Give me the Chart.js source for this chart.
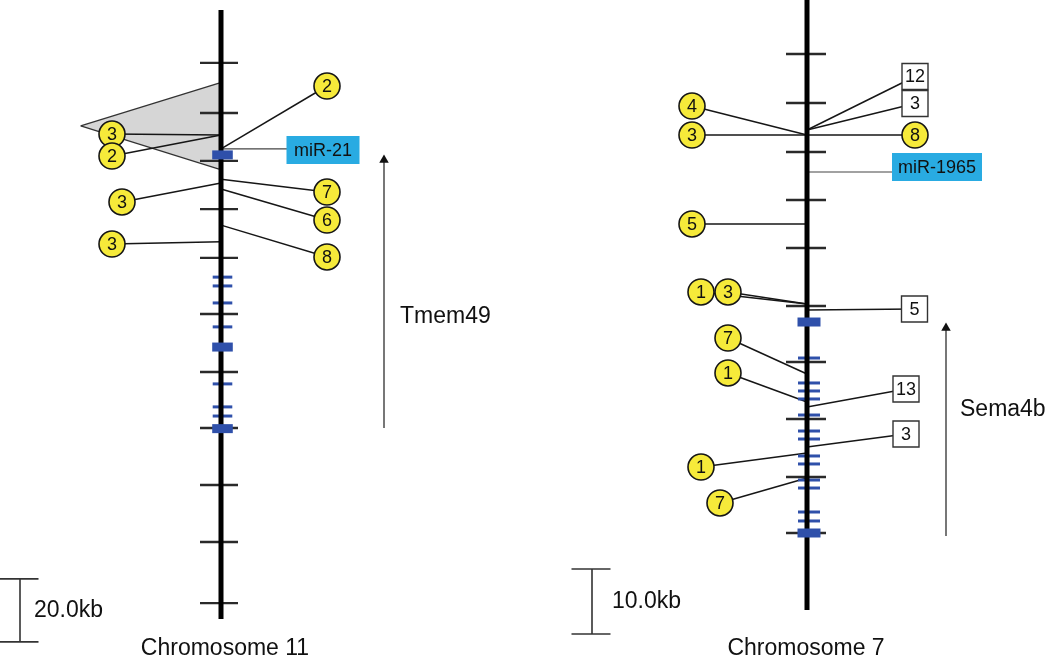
<!DOCTYPE html>
<html>
<head>
<meta charset="utf-8">
<script src="https://cdn.jsdelivr.net/npm/chart.js@4/dist/chart.umd.min.js"></script>
<style>
  html, body { margin: 0; padding: 0; background: #ffffff; }
  #wrap { width: 1050px; height: 658px; }
</style>
</head>
<body>
<div id="wrap"><canvas id="c" width="1050" height="658"></canvas></div>
<script>
// ================= DATA (positions along chromosome in kb) =================
// Chromosome 11 (Tmem49 / miR-21 locus)
const chr11Length = 193.3;
const chr11MarkerTicks = [16.8, 32.7, 47.9, 63.2, 78.7, 96.5, 114.9, 132.7, 150.8, 168.9, 188.3];
const chr11ExonLines = [84.8, 87.6, 93.0, 100.6, 118.7, 126.0, 128.9];
const chr11ExonBlocks = [46.0, 107.0, 132.9];
const chr11InsertSites = [39.7, 39.7, 44.1, 54.9, 53.7, 56.8, 68.3, 73.6];
const chr11InsertCounts = [3, 2, 2, 3, 7, 6, 8, 3];
const chr11RegionSpan = [23.2, 50.5];
const chr11MiRNA = ['miR-21'];
const chr11MiRNASites = [44.1];
const chr11Gene = 'Tmem49';
const chr11GeneSpan = [132.7, 46.0];   // from start to end (arrow direction)
const chr11ScaleKb = 20;
const chr11ScaleLabel = '20.0kb';
const chr11Title = 'Chromosome 11';

// Chromosome 7 (Sema4b / miR-1965 locus)
const chr7Length = 93.85;
const chr7MarkerTicks = [8.31, 15.85, 23.38, 30.77, 38.15, 47.08, 55.69, 64.46, 73.38, 82.0];
const chr7ExonLines = [55.08, 58.92, 60.15, 61.38, 63.85, 66.31, 67.54, 70.15, 71.38, 73.85, 75.08, 78.77, 80.15];
const chr7ExonBlocks = [49.54, 82.0];
const chr7CircleSites = [20.77, 20.77, 20.77, 34.46, 46.77, 46.77, 57.54, 61.85, 69.69, 73.54];
const chr7CircleCounts = [4, 3, 8, 5, 1, 3, 7, 1, 1, 7];
const chr7BoxSites = [20.0, 20.0, 47.69, 62.62, 68.77];
const chr7BoxCounts = [12, 3, 5, 13, 3];
const chr7MiRNA = ['miR-1965'];
const chr7MiRNASites = [26.46];
const chr7Gene = 'Sema4b';
const chr7GeneSpan = [82.46, 49.69];
const chr7ScaleKb = 10;
const chr7ScaleLabel = '10.0kb';
const chr7Title = 'Chromosome 7';

// ================= LAYOUT (page placement, not data) =================
const L = { axisMin: -10 / 3.15, axisMax: 648 / 3.15, chrX: 221, tickX: 219, tickR: 19, exonX: 222.5, exonR: 9.8,
  labelX: [112, 112, 327, 122, 327, 327, 327, 112],
  labelY: [39.37, 46.35, 24.13, 60.95, 57.78, 66.67, 78.41, 74.3],
  regionApex: [80.7, 36.8],
  miRX: [323], miRY: [44.44], miRHalfW: [36.5],
  geneX: 384, geneTextX: 400, geneTextY: 97.46, headOffset: 1.6,
  scaleX: 20, scaleCapX: 19, scaleStart: 180.6, scaleTextX: 34,
  titleX: 225, titleY: 202.6 };
const R = { axisMin: 0, axisMax: 658 / 6.5, chrX: 807, tickX: 806, tickR: 20, exonX: 809, exonR: 11,
  circleX: [692, 692, 915, 692, 701, 728, 728, 728, 701, 720],
  circleY: [16.31, 20.77, 20.77, 34.46, 44.92, 44.92, 52.0, 57.38, 71.85, 77.38],
  boxX: [915, 915, 914.5, 906, 906],
  boxY: [11.77, 15.92, 47.54, 59.85, 66.77],
  miRX: [937], miRY: [25.69], miRHalfW: [45],
  geneX: 946, geneTextX: 960, geneTextY: 63.08, headOffset: 0.77,
  scaleX: 592, scaleCapX: 591, scaleStart: 87.54, scaleTextX: 612,
  titleX: 806, titleY: 99.85 };

const FONT = '"Liberation Sans", Arial, Helvetica, sans-serif';
const YELLOW = '#f6ea3a', CYAN = '#29abe2', BLUE = '#2f50aa', INK = '#161616';

// ================= BUILD DATASETS =================
const datasets = [];
const line = (pts, axis, color, width, order, extra) => datasets.push(Object.assign({
  yAxisID: axis, data: pts, showLine: true, borderColor: color, borderWidth: width,
  pointRadius: 0, fill: false, tension: 0, order: order, borderCapStyle: 'butt'
}, extra || {}));
const marks = (pts, axis, style, extra) => datasets.push(Object.assign({
  yAxisID: axis, data: pts, showLine: false
}, style, extra || {}));

function chromosome(axis, lay, length, ticks, exLines, exBlocks) {
  line([{x: lay.chrX, y: 0}, {x: lay.chrX, y: length}], axis, '#000', 5, 3);
  marks(ticks.map(v => ({x: lay.tickX, y: v})), axis,
    {pointStyle: 'line', pointRadius: lay.tickR, pointBorderWidth: 2.4, pointBorderColor: '#2a2a2a', order: 4});
  marks(exLines.map(v => ({x: lay.exonX, y: v})), axis,
    {pointStyle: 'line', pointRadius: lay.exonR, pointBorderWidth: 3, pointBorderColor: BLUE, order: 4});
  marks(exBlocks.map(v => ({x: lay.exonX, y: v})), axis,
    {pointStyle: 'line', pointRadius: lay.exonR + 0.5, pointBorderWidth: 9, pointBorderColor: BLUE, order: 2});
}

function circles(axis, sites, counts, xs, ys, chrX) {
  sites.forEach((s, i) => line([{x: chrX, y: s}, {x: xs[i], y: ys[i]}], axis, INK, 1.5, 5));
  marks(counts.map((c, i) => ({x: xs[i], y: ys[i]})), axis, {
    pointStyle: 'circle', pointRadius: 13, pointBackgroundColor: YELLOW,
    pointBorderColor: INK, pointBorderWidth: 1.6, order: 1,
    texts: counts, textFont: '18px ' + FONT, textColor: '#111', textDy: 1
  });
}

function boxes(axis, sites, counts, xs, ys, chrX) {
  sites.forEach((s, i) => line([{x: chrX, y: s}, {x: xs[i], y: ys[i]}], axis, INK, 1.5, 5));
  marks(counts.map((c, i) => ({x: xs[i], y: ys[i]})), axis, {
    pointStyle: 'rect', pointRadius: 13 / Math.SQRT1_2, pointBackgroundColor: '#fff',
    pointBorderColor: '#333', pointBorderWidth: 1.4, order: 1,
    texts: counts, textFont: '18px ' + FONT, textColor: '#111', textDy: 1
  });
}

function mirna(axis, names, sites, lay) {
  sites.forEach((s, i) => line([{x: lay.chrX, y: s}, {x: lay.miRX[i], y: s}], axis, '#444', 1.2, 5));
  names.forEach((n, i) => marks([{x: lay.miRX[i], y: lay.miRY[i]}], axis, {
    pointStyle: 'line', pointRadius: lay.miRHalfW[i], pointBorderWidth: 28, pointBorderColor: CYAN,
    order: 1, texts: [n], textFont: '18px ' + FONT, textColor: '#111', textDy: 1
  }));
}

function gene(axis, name, span, lay) {
  line([{x: lay.geneX, y: span[0]}, {x: lay.geneX, y: span[1] + lay.headOffset}], axis, '#555', 1.6, 5);
  marks([{x: lay.geneX, y: span[1] + lay.headOffset}], axis,
    {pointStyle: 'triangle', pointRadius: 5.5, pointBackgroundColor: '#111', pointBorderWidth: 0, order: 1});
  marks([{x: lay.geneTextX, y: lay.geneTextY}], axis,
    {pointRadius: 0, order: 1, texts: [name], textFont: '23px ' + FONT, textColor: '#111', textAlign: 'left'});
}

function scaleBar(axis, kb, label, lay) {
  line([{x: lay.scaleX, y: lay.scaleStart}, {x: lay.scaleX, y: lay.scaleStart + kb}], axis, '#333', 1.6, 5);
  marks([{x: lay.scaleCapX, y: lay.scaleStart}, {x: lay.scaleCapX, y: lay.scaleStart + kb}], axis,
    {pointStyle: 'line', pointRadius: 19.5, pointBorderWidth: 1.6, pointBorderColor: '#333', order: 4});
  marks([{x: lay.scaleTextX, y: lay.scaleStart + kb / 2}], axis,
    {pointRadius: 0, order: 1, texts: [label], textFont: '23px ' + FONT, textColor: '#111', textAlign: 'left'});
}

function title(axis, text, lay) {
  marks([{x: lay.titleX, y: lay.titleY}], axis,
    {pointRadius: 0, order: 1, texts: [text], textFont: '23px ' + FONT, textColor: '#111'});
}

// --- Chromosome 11 panel ---
// shaded region (triangle) : upper edge then lower edge filled between
line([{x: L.regionApex[0], y: L.regionApex[1]}, {x: L.tickX, y: chr11RegionSpan[0]}], 'yL', '#333', 1.3, 6);
line([{x: L.regionApex[0], y: L.regionApex[1]}, {x: L.tickX, y: chr11RegionSpan[1]}], 'yL', '#333', 1.3, 6,
  {fill: '-1', backgroundColor: '#d6d6d6'});
chromosome('yL', L, chr11Length, chr11MarkerTicks, chr11ExonLines, chr11ExonBlocks);
circles('yL', chr11InsertSites, chr11InsertCounts, L.labelX, L.labelY, L.chrX);
mirna('yL', chr11MiRNA, chr11MiRNASites, L);
gene('yL', chr11Gene, chr11GeneSpan, L);
scaleBar('yL', chr11ScaleKb, chr11ScaleLabel, L);
title('yL', chr11Title, L);

// --- Chromosome 7 panel ---
chromosome('yR', R, chr7Length, chr7MarkerTicks, chr7ExonLines, chr7ExonBlocks);
circles('yR', chr7CircleSites, chr7CircleCounts, R.circleX, R.circleY, R.chrX);
boxes('yR', chr7BoxSites, chr7BoxCounts, R.boxX, R.boxY, R.chrX);
mirna('yR', chr7MiRNA, chr7MiRNASites, R);
gene('yR', chr7Gene, chr7GeneSpan, R);
scaleBar('yR', chr7ScaleKb, chr7ScaleLabel, R);
title('yR', chr7Title, R);

// ================= TEXT PLUGIN =================
const markText = {
  id: 'markText',
  afterDatasetsDraw(chart) {
    const ctx = chart.ctx;
    chart.data.datasets.forEach((ds, i) => {
      if (!ds.texts) return;
      const meta = chart.getDatasetMeta(i);
      ctx.save();
      ctx.font = ds.textFont;
      ctx.fillStyle = ds.textColor || '#111';
      ctx.textAlign = ds.textAlign || 'center';
      ctx.textBaseline = 'middle';
      meta.data.forEach((el, j) => {
        ctx.fillText(String(ds.texts[j]), el.x + (ds.textDx || 0), el.y + (ds.textDy || 0));
      });
      ctx.restore();
    });
  }
};

new Chart(document.getElementById('c'), {
  type: 'scatter',
  data: { datasets: datasets },
  options: {
    responsive: false,
    animation: false,
    events: [],
    layout: { padding: 0, autoPadding: false },
    plugins: { legend: { display: false }, tooltip: { enabled: false } },
    scales: {
      x: { type: 'linear', min: 0, max: 1050, display: false },
      yL: { type: 'linear', min: L.axisMin, max: L.axisMax, reverse: true, display: false },
      yR: { type: 'linear', min: R.axisMin, max: R.axisMax, reverse: true, display: false }
    }
  },
  plugins: [markText]
});
</script>
</body>
</html>
